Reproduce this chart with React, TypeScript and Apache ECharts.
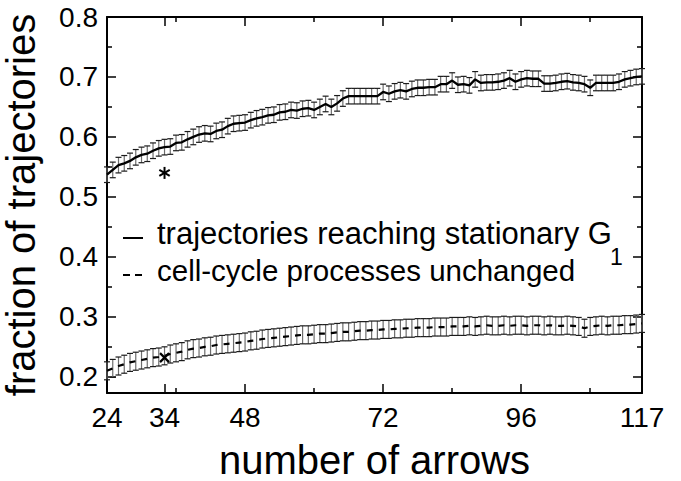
import React, { useEffect, useRef } from "react";
import * as echarts from "echarts";

const ARROWS = [
  24, 25, 26, 27, 28, 29, 30, 31, 32, 33, 34, 35, 36, 37, 38, 39, 40, 41, 42, 43,
  44, 45, 46, 47, 48, 49, 50, 51, 52, 53, 54, 55, 56, 57, 58, 59, 60, 61, 62, 63,
  64, 65, 66, 67, 68, 69, 70, 71, 72, 73, 74, 75, 76, 77, 78, 79, 80, 81, 82, 83,
  84, 85, 86, 87, 88, 89, 90, 91, 92, 93, 94, 95, 96, 97, 98, 99, 100, 101, 102, 103,
  104, 105, 106, 107, 108, 109, 110, 111, 112, 113, 114, 115, 116, 117,
];

const STATIONARY = [
  0.537, 0.545, 0.553, 0.556, 0.56, 0.566, 0.57, 0.572, 0.577, 0.581, 0.583, 0.584, 0.59, 0.591, 0.596, 0.6, 0.604, 0.606, 0.605, 0.61,
  0.612, 0.618, 0.622, 0.623, 0.624, 0.628, 0.631, 0.633, 0.636, 0.637, 0.641, 0.642, 0.645, 0.644, 0.647, 0.648, 0.645, 0.65, 0.655, 0.65,
  0.656, 0.664, 0.668, 0.668, 0.668, 0.668, 0.668, 0.668, 0.675, 0.672, 0.676, 0.678, 0.676, 0.68, 0.682, 0.682, 0.683, 0.683, 0.688, 0.688,
  0.694, 0.687, 0.688, 0.686, 0.696, 0.69, 0.691, 0.691, 0.692, 0.694, 0.698, 0.692, 0.696, 0.698, 0.697, 0.697, 0.689, 0.689, 0.69, 0.692,
  0.693, 0.691, 0.69, 0.688, 0.682, 0.69, 0.69, 0.69, 0.69, 0.692, 0.696, 0.698, 0.7, 0.701,
];

const UNCHANGED = [
  0.21, 0.214, 0.218, 0.221, 0.224, 0.226, 0.228, 0.23, 0.232, 0.233, 0.235, 0.238, 0.24, 0.242, 0.245, 0.247, 0.248, 0.25, 0.251, 0.253,
  0.254, 0.255, 0.256, 0.257, 0.258, 0.26, 0.261, 0.263, 0.264, 0.265, 0.266, 0.267, 0.268, 0.269, 0.27, 0.27, 0.271, 0.272, 0.272, 0.273,
  0.274, 0.275, 0.275, 0.276, 0.277, 0.277, 0.278, 0.278, 0.279, 0.279, 0.28, 0.28, 0.281, 0.281, 0.282, 0.282, 0.282, 0.283, 0.283, 0.283,
  0.284, 0.284, 0.284, 0.285, 0.284, 0.285, 0.286, 0.285, 0.285, 0.286, 0.285, 0.286, 0.286, 0.285, 0.286, 0.286, 0.285, 0.286, 0.285, 0.285,
  0.286, 0.285, 0.284, 0.281, 0.284, 0.285, 0.286, 0.285, 0.286, 0.286, 0.287, 0.287, 0.288, 0.289,
];

const STATIONARY_ERR = 0.013;
const UNCHANGED_ERR = 0.015;

const STAR_POINT = [34, 0.54];
const CROSS_POINT = [34, 0.232];

const X_MAJOR = [24, 34, 48, 72, 96, 117];
const X_MINOR = [36, 60, 84, 108];
const Y_MAJOR = [0.2, 0.3, 0.4, 0.5, 0.6, 0.7, 0.8];
const Y_MINOR = [0.25, 0.35, 0.45, 0.55, 0.65, 0.75];

const LEGEND_SOLID = "trajectories reaching stationary G";
const LEGEND_SUB = "1";
const LEGEND_DASHED = "cell-cycle processes unchanged";

const FONT = "Liberation Sans, Arial, sans-serif";

export default function App() {
  const ref = useRef<HTMLDivElement>(null);

  useEffect(() => {
    if (!ref.current) return;
    const chart = echarts.init(ref.current, null, { renderer: "svg" });

    const axisLine = { show: true, lineStyle: { color: "#000", width: 2 } };
    const mkX = (pos: string, vals: number[], len: number, labels: boolean, line: boolean) => ({
      type: "value",
      position: pos,
      min: 24,
      max: 117,
      axisLine: line ? axisLine : { show: false },
      axisTick: { show: true, inside: true, length: len, customValues: vals, lineStyle: { color: "#000", width: 1.5 } },
      axisLabel: labels
        ? { show: true, customValues: vals, fontSize: 28, color: "#000", fontFamily: FONT, margin: 10 }
        : { show: false },
      splitLine: { show: false },
    });
    const mkY = (pos: string, vals: number[], len: number, labels: boolean, line: boolean) => ({
      type: "value",
      position: pos,
      min: 0.173,
      max: 0.8,
      axisLine: line ? axisLine : { show: false },
      axisTick: { show: true, inside: true, length: len, customValues: vals, lineStyle: { color: "#000", width: 1.5 } },
      axisLabel: labels
        ? {
            show: true,
            customValues: vals,
            fontSize: 28,
            color: "#000",
            fontFamily: FONT,
            margin: 9,
            formatter: (v: number) => v.toFixed(1),
          }
        : { show: false },
      splitLine: { show: false },
    });

    const xAxes: any[] = [
      {
        ...mkX("bottom", X_MAJOR, 9, true, true),
        name: "number of arrows",
        nameLocation: "middle",
        nameGap: 50,
        nameTextStyle: { fontSize: 40, lineHeight: 34, color: "#000", fontFamily: FONT, verticalAlign: "top" },
      },
      mkX("bottom", X_MINOR, 5, false, false),
      mkX("top", X_MAJOR, 9, false, true),
      mkX("top", X_MINOR, 5, false, false),
    ];
    const yAxes: any[] = [
      {
        ...mkY("left", Y_MAJOR, 9, true, true),
        name: "fraction of trajectories",
        nameLocation: "middle",
        nameGap: 66,
        nameTextStyle: { fontSize: 40, lineHeight: 40, color: "#000", fontFamily: FONT },
      },
      mkY("left", Y_MINOR, 5, false, false),
      mkY("right", Y_MAJOR, 9, false, true),
      mkY("right", Y_MINOR, 5, false, false),
    ];

    const errRender = (params: any, api: any) => {
      const x = api.value(0);
      const y = api.value(1);
      const e = api.value(2);
      const t = api.coord([x, y + e]);
      const b = api.coord([x, y - e]);
      const w = 3;
      return {
        type: "group",
        children: [
          { type: "line", shape: { x1: t[0], y1: t[1], x2: b[0], y2: b[1] }, style: { stroke: "#6e6e6e", lineWidth: 1.2 } },
          { type: "line", shape: { x1: t[0] - w, y1: t[1], x2: t[0] + w, y2: t[1] }, style: { stroke: "#1a1a1a", lineWidth: 1.2 } },
          { type: "line", shape: { x1: b[0] - w, y1: b[1], x2: b[0] + w, y2: b[1] }, style: { stroke: "#1a1a1a", lineWidth: 1.2 } },
        ],
      };
    };

    const markRender = (kind: string) => (params: any, api: any) => {
      const c = api.coord([api.value(0), api.value(1)]);
      const children: any[] = [];
      if (kind === "star") {
        const r = 6;
        children.push({ type: "line", shape: { x1: c[0], y1: c[1] - r, x2: c[0], y2: c[1] + r }, style: { stroke: "#000", lineWidth: 2 } });
        children.push({ type: "line", shape: { x1: c[0] - 5.2, y1: c[1] - 3, x2: c[0] + 5.2, y2: c[1] + 3 }, style: { stroke: "#000", lineWidth: 2 } });
        children.push({ type: "line", shape: { x1: c[0] - 5.2, y1: c[1] + 3, x2: c[0] + 5.2, y2: c[1] - 3 }, style: { stroke: "#000", lineWidth: 2 } });
      } else {
        children.push({ type: "line", shape: { x1: c[0] - 4.5, y1: c[1] - 4.5, x2: c[0] + 4.5, y2: c[1] + 4.5 }, style: { stroke: "#000", lineWidth: 2.2 } });
        children.push({ type: "line", shape: { x1: c[0] - 4.5, y1: c[1] + 4.5, x2: c[0] + 4.5, y2: c[1] - 4.5 }, style: { stroke: "#000", lineWidth: 2.2 } });
      }
      return { type: "group", children };
    };

    chart.setOption({
      animation: false,
      backgroundColor: "#fff",
      grid: { left: 107, right: 39, top: 17, bottom: 88, containLabel: false, outerBoundsMode: "none" },
      xAxis: xAxes,
      yAxis: yAxes,
      series: [
        {
          type: "custom",
          renderItem: errRender,
          data: ARROWS.map((a, i) => [a, STATIONARY[i], STATIONARY_ERR]),
          z: 1,
        },
        {
          type: "custom",
          renderItem: errRender,
          data: ARROWS.map((a, i) => [a, UNCHANGED[i], UNCHANGED_ERR]),
          z: 1,
        },
        {
          type: "line",
          data: ARROWS.map((a, i) => [a, STATIONARY[i]]),
          symbol: "none",
          lineStyle: { color: "#000", width: 2.3 },
          z: 3,
        },
        {
          type: "line",
          data: ARROWS.map((a, i) => [a, UNCHANGED[i]]),
          symbol: "none",
          lineStyle: { color: "#000", width: 2.2, type: [6, 6] },
          z: 3,
        },
        { type: "custom", renderItem: markRender("star"), data: [STAR_POINT], z: 4 },
        { type: "custom", renderItem: markRender("cross"), data: [CROSS_POINT], z: 4 },
      ],
      graphic: [
        { type: "line", shape: { x1: 123, y1: 238, x2: 143, y2: 238 }, style: { stroke: "#000", lineWidth: 2 } },
        { type: "line", shape: { x1: 123, y1: 275, x2: 130, y2: 275 }, style: { stroke: "#000", lineWidth: 2 } },
        { type: "line", shape: { x1: 135, y1: 275, x2: 142, y2: 275 }, style: { stroke: "#000", lineWidth: 2 } },
        {
          type: "text",
          x: 157,
          y: 233,
          style: { text: LEGEND_SOLID, fontSize: 31, fontFamily: FONT, fill: "#000", verticalAlign: "middle" },
        },
        {
          type: "text",
          x: 610,
          y: 257,
          style: { text: LEGEND_SUB, fontSize: 23, fontFamily: FONT, fill: "#000", verticalAlign: "middle" },
        },
        {
          type: "text",
          x: 157,
          y: 270,
          style: { text: LEGEND_DASHED, fontSize: 29.5, fontFamily: FONT, fill: "#000", verticalAlign: "middle" },
        },
      ],
    });

    return () => chart.dispose();
  }, []);

  return <div ref={ref} style={{ width: 681, height: 481, position: "absolute", left: 0, top: 0 }} />;
}
